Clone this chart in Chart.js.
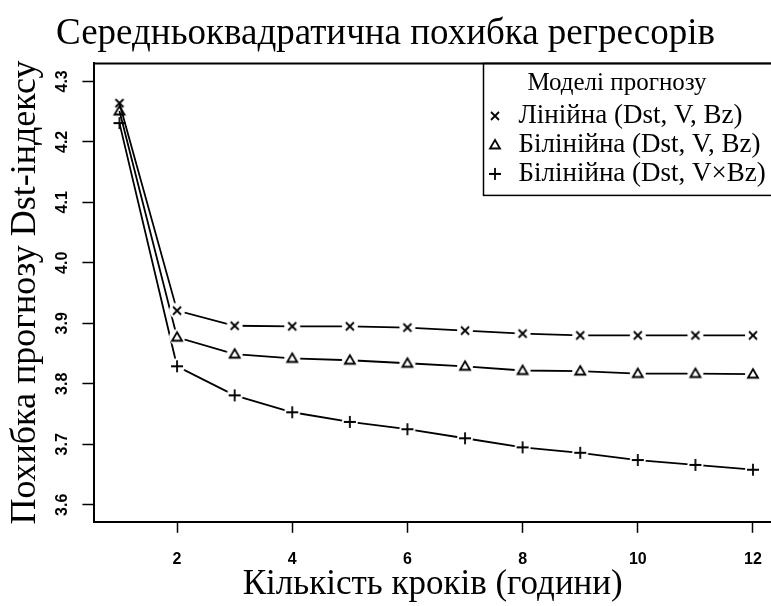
<!DOCTYPE html>
<html>
<head>
<meta charset="utf-8">
<script src="https://cdn.jsdelivr.net/npm/chart.js@4.4.0/dist/chart.umd.min.js"></script>
<style>
html,body{margin:0;padding:0;background:#fff;}
#wrap{width:771px;height:606px;position:relative;}
</style>
</head>
<body>
<div id="wrap"><canvas id="myChart"></canvas></div>
<script>
// forecast horizon, hours
var steps=[1,2,3,4,5,6,7,8,9,10,11,12];
// RMSE of Dst forecast per model
var linearErr=[4.264,3.921,3.896,3.895,3.895,3.893,3.888,3.883,3.880,3.880,3.880,3.880];
var bilinearErr=[4.251,3.877,3.849,3.842,3.839,3.834,3.829,3.822,3.821,3.817,3.817,3.816];
var bilinearVBzErr=[4.231,3.829,3.781,3.753,3.737,3.725,3.710,3.695,3.686,3.674,3.666,3.658];
var seriesNames=['Лінійна (Dst, V, Bz)','Білінійна (Dst, V, Bz)','Білінійна (Dst, V×Bz)'];
var xTicks=[2,4,6,8,10,12];
var yTicks=[3.6,3.7,3.8,3.9,4.0,4.1,4.2,4.3];

var serif="'Liberation Serif', 'Times New Roman', serif";
var sans="'Liberation Sans', Arial, sans-serif";

// R-like markers; the white disk leaves a gap in the line around each point (type="b")
function makeMarker(kind,gap){
    var c=document.createElement('canvas');
    c.width=c.height=20;
    var g=c.getContext('2d');
    if(gap){
        g.fillStyle='#fff';
        g.beginPath();g.arc(10,10,8,0,2*Math.PI);g.fill();
    }
    g.strokeStyle='#000';
    g.lineWidth=1.8;
    g.beginPath();
    if(kind=='x'){
        g.moveTo(6,6);g.lineTo(14,14);g.moveTo(14,6);g.lineTo(6,14);
    }else if(kind=='tri'){
        g.moveTo(10,5);g.lineTo(15,13.5);g.lineTo(5,13.5);g.closePath();
    }else{
        g.moveTo(10,4);g.lineTo(10,16);g.moveTo(4,10);g.lineTo(16,10);
    }
    g.stroke();
    return c;
}
function markerStyle(kind){
    var plain=makeMarker(kind,false), gapped=makeMarker(kind,true);
    return function(ctx){ return ctx.dataIndex===0 ? plain : gapped; };
}
function toPoints(arr){
    return steps.map(function(s,i){ return {x:s,y:arr[i]}; });
}
function makeSet(label,arr,kind){
    return {
        label:label,
        data:toPoints(arr),
        borderColor:'#000',
        backgroundColor:'#000',
        borderWidth:1.8,
        pointStyle:markerStyle(kind),
        pointRadius:6,
        tension:0
    };
}

// legend sits in the top right corner of the plot, framed like R's legend()
var frameBox={
    id:'frameBox',
    afterLayout:function(chart){
        var lg=chart.legend, ca=chart.chartArea;
        lg.left=chart.width-288; lg.right=chart.width;
        lg.top=ca.top; lg.bottom=ca.bottom;
        lg.width=268; lg.height=ca.bottom-ca.top;
    },
    afterDraw:function(chart){
        var ctx=chart.ctx, ca=chart.chartArea, lg=chart.legend;
        ctx.save();
        ctx.strokeStyle='#000';
        ctx.lineWidth=2;
        ctx.beginPath();
        ctx.moveTo(ca.left-1,ca.top);ctx.lineTo(chart.width,ca.top);
        ctx.stroke();
        var bottom=lg.top+lg._computeTitleHeight()+lg.columnSizes[0].height+lg.options.labels.padding+6;
        ctx.lineWidth=1.5;
        ctx.strokeRect(lg.left+0.5,lg.top,chart.width,bottom-lg.top);
        ctx.restore();
    }
};

var ctx=document.getElementById('myChart').getContext('2d');
var myChart=new Chart(ctx,{
    type:'line',
    data:{
        datasets:[
            makeSet(seriesNames[0],linearErr,'x'),
            makeSet(seriesNames[1],bilinearErr,'tri'),
            makeSet(seriesNames[2],bilinearVBzErr,'plus')
        ]
    },
    options:{
        responsive:true,
        maintainAspectRatio:false,
        animation:false,
        layout:{autoPadding:false,padding:{left:0,right:0,top:0,bottom:0}},
        plugins:{
            title:{
                display:true,
                text:'Середньоквадратична похибка регресорів',
                color:'#000',
                font:{family:serif,size:37,weight:'normal'},
                padding:{top:12,bottom:7}
            },
            legend:{
                position:'chartArea',
                align:'start',
                title:{display:true,text:'Моделі прогнозу',color:'#000',font:{family:serif,size:25},padding:{top:8,bottom:-1}},
                labels:{usePointStyle:true,color:'#000',font:{family:serif,size:27},padding:2,boxWidth:20}
            },
            tooltip:{enabled:false}
        },
        scales:{
            x:{
                type:'linear',
                min:0.565,
                max:12.313,
                afterBuildTicks:function(scale){ scale.ticks=xTicks.map(function(v){return {value:v};}); },
                afterFit:function(scale){ scale.paddingRight=0; },
                grid:{drawOnChartArea:false,color:'#000',tickLength:11,tickWidth:1.5},
                border:{color:'#000',width:2},
                ticks:{color:'#000',font:{family:sans,size:16,weight:'bold'},padding:17,maxRotation:0},
                title:{display:true,text:'Кількість кроків (години)',color:'#000',font:{family:serif,size:35},padding:{top:-22,bottom:0}}
            },
            y:{
                min:3.5719,
                max:4.3297,
                afterBuildTicks:function(scale){ scale.ticks=yTicks.map(function(v){return {value:v};}); },
                grid:{drawOnChartArea:false,color:'#000',tickLength:12,tickWidth:1.5},
                border:{color:'#000',width:2},
                ticks:{color:'#000',font:{family:sans,size:16,weight:'bold'},padding:9,minRotation:90,maxRotation:90,crossAlign:'center',
                    callback:function(v){ return v.toFixed(1); }},
                title:{display:true,text:'Похибка прогнозу Dst-індексу',color:'#000',font:{family:serif,size:36},padding:{top:4,bottom:-2}}
            }
        }
    },
    plugins:[frameBox]
});
</script>
</body>
</html>
